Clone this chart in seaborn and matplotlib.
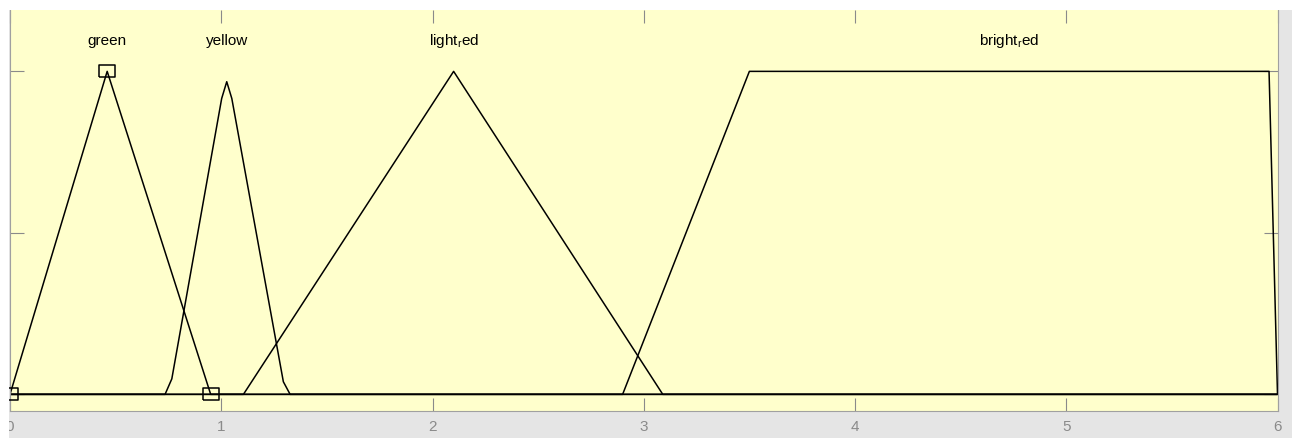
import numpy as np
import pandas as pd
import matplotlib
matplotlib.use("Agg")
import matplotlib.pyplot as plt
from matplotlib.patches import Rectangle
import seaborn as sns

# Функции принадлежности
green_x = [0.0, 0.46, 0.95, 6.0]
green_y = [0.0, 1.0, 0.0, 0.0]

yellow_x = [0.0, 0.734, 0.766, 1.002, 1.026, 1.050, 1.294, 1.326, 6.0]
yellow_y = [0.0, 0.0, 0.048, 0.916, 0.968, 0.916, 0.039, 0.0, 0.0]

light_red_x = [0.0, 1.105, 2.10, 3.09, 6.0]
light_red_y = [0.0, 0.0, 1.0, 0.0, 0.0]

bright_red_x = [0.0, 2.90, 3.50, 5.96, 6.0]
bright_red_y = [0.0, 0.0, 1.0, 1.0, 0.0]

mf_names = ["green", "yellow", "light$_\\mathrm{r}$ed", "bright$_\\mathrm{r}$ed"]
x_ticks = [0, 1, 2, 3, 4, 5, 6]
y_ticks = [0, 0.5, 1]

sns.set_style("white")
plt.rcParams["font.family"] = ["Liberation Sans", "DejaVu Sans"]
plt.rcParams["mathtext.fontset"] = "custom"
plt.rcParams["mathtext.rm"] = "Liberation Sans"

series = [(green_x, green_y), (yellow_x, yellow_y),
          (light_red_x, light_red_y), (bright_red_x, bright_red_y)]
frames = []
for name, (xs, ys) in zip(mf_names, series):
    frames.append(pd.DataFrame({"x": xs, "mu": ys, "mf": name}))
df = pd.concat(frames, ignore_index=True)

W, H = 1292, 439
fig = plt.figure(figsize=(W / 100, H / 100), dpi=100, facecolor="#e5e5e5")
ax = fig.add_axes([10 / W, (H - 411.5) / H, 1267.5 / W, 400.5 / H])
ax.set_facecolor("#ffffcc")

sns.lineplot(data=df, x="x", y="mu", hue="mf", units="mf", estimator=None,
             sort=False, palette=["black"] * 4, linewidth=1.1, legend=False, ax=ax)

# выбранная функция (green) – маркеры-прямоугольники в точках параметров
rect = [(-8.5, -6.5), (8.5, -6.5), (8.5, 6.5), (-8.5, 6.5), (-8.5, -6.5)]
ax.plot(green_x[:3], green_y[:3], linestyle="none", marker=rect, markersize=12.2,
        markerfacecolor="none", markeredgecolor="black", markeredgewidth=1.1,
        clip_on=False, zorder=5)

# подписи над пиками
for name, (xs, ys) in zip(mf_names, series):
    xs_a, ys_a = np.array(xs), np.array(ys)
    peak_x = xs_a[ys_a == ys_a.max()].mean()
    ax.text(peak_x, 1.096, name, ha="center", va="center", fontsize=11, color="black")

ax.set_xlim(0, 6)
ax.set_ylim(-0.05, 1.19)
ax.set_xticks(x_ticks)
ax.set_yticks(y_ticks)
ax.set_yticklabels([])
ax.set_xlabel("")
ax.set_ylabel("")
ax.tick_params(axis="x", direction="in", length=9.5, width=0.8, color="#8a8a8a",
               labelcolor="#8a8a8a", labelsize=11, pad=6, top=True, bottom=True)
ax.tick_params(axis="y", direction="in", length=10, width=0.8, color="#8a8a8a",
               left=True, right=True)
for side in ["left", "right", "bottom"]:
    ax.spines[side].set_color("#a0a0a0")
    ax.spines[side].set_linewidth(0.8)
ax.spines["top"].set_visible(False)

# белые поля скриншота сверху и слева
fig.add_artist(Rectangle((0, (H - 11) / H), 1, 11 / H, transform=fig.transFigure,
                         facecolor="white", edgecolor="none", zorder=10))
fig.add_artist(Rectangle((0, 0), 9 / W, 1, transform=fig.transFigure,
                         facecolor="white", edgecolor="none", zorder=10))

fig.savefig("out.png", dpi=100, facecolor=fig.get_facecolor())
